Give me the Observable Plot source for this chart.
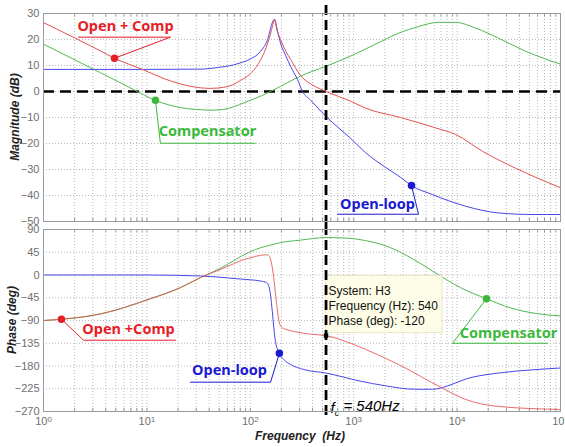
<!DOCTYPE html>
<html><head><meta charset="utf-8">
<script src="https://cdn.jsdelivr.net/npm/d3@7"></script>
<script src="https://cdn.jsdelivr.net/npm/@observablehq/plot@0.6"></script>
<style>
body{margin:0;background:#fff;}
#chart{position:relative;width:565px;height:447px;}
#chart svg{position:absolute;left:0;overflow:visible;}
</style></head><body><div id="chart"></div>
<script>
// ---------- data ----------
const magTicks = [30, 20, 10, 0, -10, -20, -30, -40, -50];
const phaseTicks = [90, 45, 0, -45, -90, -135, -180, -225, -270];
const decadeTicks = [1, 10, 100, 1000, 10000, 100000];
const decadeLabels = ["0", "1", "2", "3", "4", "5"];

// Magnitude (dB)
const magOpenF = [1, 10, 33, 50, 68.7, 80, 100, 126, 147, 163, 171, 184, 196, 220, 245, 286, 320, 382, 540, 931, 1300, 2000, 2838, 3622, 5740, 12050, 25120, 53000, 100000];
const magOpenV = [8.5, 8.5, 8.6, 9.3, 10.2, 11, 12.5, 15.5, 20, 26.4, 27.8, 23, 18.6, 13.8, 9.7, 4.6, 0, -3.3, -9.6, -18, -23.5, -29, -33, -36.2, -39.6, -44.1, -46.7, -47.3, -47.3];
const magTotalF = [1, 3.56, 4.86, 9.3, 15, 26.4, 41.2, 55, 68.7, 80, 100, 115, 126, 138, 147, 157, 163, 168, 171, 180, 196, 220, 245, 305, 400, 540, 931, 1300, 2838, 6180, 9661, 17620, 36730, 100000];
const magTotalV = [26.5, 15.6, 12.8, 8.3, 4.8, 2, 1.2, 1.6, 2.7, 4.2, 6.8, 9.6, 12.2, 15.5, 18.5, 22.2, 24.8, 26.8, 27.8, 24, 20, 15.6, 12.4, 6.2, 2.5, 0, -3.7, -6.4, -10, -14, -16.5, -23, -29.5, -37];
const magCompF = [1, 3.56, 4.86, 7.4, 12.1, 21.1, 33, 41, 55, 68.7, 90, 126, 196, 305, 540, 931, 1626, 2710, 4236, 6607, 9661, 15070, 25120, 45920, 100000];
const magCompV = [18.2, 7.2, 4.5, 0.8, -3.4, -6.2, -7, -7.2, -6.9, -5.9, -4.1, -1.8, 2, 5.9, 9.7, 13.6, 18.2, 22.4, 25, 26.6, 26.6, 24.4, 20.5, 15.5, 10.5];

// Phase (deg)
const phOpenF = [1, 10, 33, 80, 126, 144, 150, 157, 163, 169, 175, 182, 191, 210, 245, 330, 540, 1164, 2000, 3963, 5781, 9000, 12050, 25120, 50000, 100000];
const phOpenV = [0, 0, -2, -8, -12, -15, -20, -40, -71, -105, -131, -146, -156, -167, -177, -187, -194, -210, -219, -226, -226, -216, -206, -194, -188, -184];
const phTotalF = [1, 1.49, 3.56, 10.8, 21.1, 33, 50, 68.7, 80, 100, 126, 144, 153, 162, 170, 177, 183, 190, 200, 219, 245, 382, 540, 931, 1300, 2710, 7228, 12050, 25120, 100000];
const phTotalV = [-90, -87.5, -77, -47, -25, -5, 10, 22, 28, 34, 39, 40, 37, 18, -12, -45, -71, -92, -103, -107, -110, -117, -120, -135, -147, -177, -224, -246, -260, -266];
const phCompF = [1, 3.56, 10.8, 21.1, 33, 50, 68.7, 80, 100, 126, 150, 196, 305, 540, 931, 1300, 1816, 2710, 4000, 5781, 8000, 10790, 19230, 32810, 57300, 100000];
const phCompV = [-90, -77, -47, -25, -5, 12, 28, 36, 46, 54, 58, 64, 69, 74, 72.5, 68, 61, 47, 28, 8, -10, -25, -47, -65, -76, -81];

// crossover / data tip
const fc = 540;
const fcPhase = -120;
const tipLines = ["System: H3", "Frequency (Hz): " + fc, "Phase (deg): " + fcPhase];

// annotations (data space): label, text pos, leader polyline, marker
const magNotes = [
  {label: "Open + Comp", color: "#e61e28", tx: 6.21, ty: 25.1, path: [[2.18, 20.9], [16.9, 20.9], [4.86, 12.8]], mx: 4.86, my: 12.8},
  {label: "Compensator", color: "#3cb93c", tx: 38.5, ty: -15.3, path: [[112, -19.9], [13.5, -19.9], [12.1, -3.4]], mx: 12.1, my: -3.4},
  {label: "Open-loop", color: "#1a1ad2", tx: 1700, ty: -43.3, path: [[697, -47.2], [4236, -47.2], [3622, -36.2]], mx: 3622, my: -36.2}
];
const phNotes = [
  {label: "Open +Comp", color: "#e61e28", tx: 6.64, ty: -107, path: [[18.9, -129], [2.44, -129], [1.49, -87.5]], mx: 1.49, my: -87.5},
  {label: "Open-loop", color: "#1a1ad2", tx: 63, ty: -188.5, path: [[26.4, -212], [157, -212], [191, -155]], mx: 191, my: -155},
  {label: "Compensator", color: "#3cb93c", tx: 31400, ty: -115, path: [[74800, -135], [9030, -135], [19230, -47]], mx: 19230, my: -47}
];

// ---------- helpers ----------
const pts = (fs, vs) => fs.map((f, i) => ({f, v: vs[i]}));
const minorF = [];
for (let d = 1; d < 1e5; d *= 10) for (let m = 1; m < 10; m++) minorF.push(m * d);
minorF.push(1e5);

const lineRed = "#e65050", lineBlue = "#4646ec", lineGreen = "#50b850";
const gridStyle = {stroke: "#b8b8b8", strokeDasharray: "1,2", strokeWidth: 1};
const font = "'Liberation Sans', Arial, sans-serif";

function noteMarks(notes) {
  const m = [];
  for (const n of notes) {
    m.push(Plot.line(n.path.map(p => ({f: p[0], v: p[1]})), {x: "f", y: "v", stroke: n.color, strokeWidth: 1}));
    m.push(Plot.dot([n], {x: "mx", y: "my", r: 3, fill: n.color, stroke: n.color}));
    m.push(Plot.text([n], {x: "tx", y: "ty", text: "label", fill: n.color, fontSize: 14.5, fontWeight: "bold", fontFamily: "'Noto Sans', 'Liberation Sans', sans-serif"}));
  }
  return m;
}

const chart = document.getElementById("chart");

// ---------- magnitude panel ----------
const topPlot = Plot.plot({
  width: 565, height: 225,
  marginLeft: 43, marginRight: 5, marginTop: 13, marginBottom: 4,
  style: {fontFamily: font, fontSize: "11px", overflow: "visible", background: "transparent"},
  x: {type: "log", domain: [1, 1e5], axis: null},
  y: {domain: [-50, 30]},
  marks: [
    Plot.ruleX(minorF, gridStyle),
    Plot.ruleY(magTicks, gridStyle),
    Plot.ruleX(minorF, {y1: -50, y2: -48.8, stroke: "#999"}),
    Plot.ruleX(minorF, {y1: 30, y2: 28.8, stroke: "#999"}),
    Plot.ruleY([0], {stroke: "#000", strokeWidth: 2.6, strokeDasharray: "11,6"}),
    Plot.line(pts(magCompF, magCompV), {x: "f", y: "v", stroke: lineGreen, strokeWidth: 1, curve: "monotone-x"}),
    Plot.line(pts(magOpenF, magOpenV), {x: "f", y: "v", stroke: lineBlue, strokeWidth: 1, curve: "monotone-x"}),
    Plot.line(pts(magTotalF, magTotalV), {x: "f", y: "v", stroke: lineRed, strokeWidth: 1, curve: "monotone-x"}),
    Plot.ruleX([fc], {y1: 33.1, y2: -51.6, stroke: "#000", strokeWidth: 2.8, strokeDasharray: "10,5"}),
    Plot.frame({stroke: "#9a9a9a"}),
    Plot.axisY(magTicks, {tickSize: 0, tickPadding: 4, label: null, fill: "#707070"}),
    ...noteMarks(magNotes)
  ]
});
topPlot.style.top = "0px";
chart.appendChild(topPlot);
d3.select(topPlot).append("text")
  .attr("transform", "translate(19,117) rotate(-90)")
  .attr("text-anchor", "middle").attr("font-family", font)
  .attr("font-size", 12).attr("font-weight", "bold").attr("font-style", "italic")
  .attr("fill", "#222").text("Magnitude (dB)");

// ---------- phase panel ----------
const botPlot = Plot.plot({
  width: 565, height: 222,
  marginLeft: 43, marginRight: 5, marginTop: 4, marginBottom: 36,
  style: {fontFamily: font, fontSize: "11px", overflow: "visible", background: "transparent"},
  x: {type: "log", domain: [1, 1e5]},
  y: {domain: [-270, 90]},
  marks: [
    Plot.ruleX(minorF, gridStyle),
    Plot.ruleY(phaseTicks, gridStyle),
    Plot.ruleX(minorF, {y1: -270, y2: -264, stroke: "#999"}),
    Plot.ruleX(minorF, {y1: 90, y2: 84, stroke: "#999"}),
    Plot.line(pts(phCompF, phCompV), {x: "f", y: "v", stroke: lineGreen, strokeWidth: 1, curve: "monotone-x"}),
    Plot.line(pts(phOpenF, phOpenV), {x: "f", y: "v", stroke: lineBlue, strokeWidth: 1, curve: "monotone-x"}),
    Plot.line(pts(phTotalF, phTotalV), {x: "f", y: "v", stroke: lineRed, strokeWidth: 1, strokeOpacity: 0.85, curve: "monotone-x"}),
    Plot.rect([{x1: fc, x2: 7230, y1: -115, y2: -2}], {x1: "x1", x2: "x2", y1: "y1", y2: "y2", fill: "#fdfde6", fillOpacity: 0.92, stroke: "#e6e6cc"}),
    Plot.text(tipLines, {x: 571, y: [-32, -61.5, -91], text: d => d, textAnchor: "start", fontSize: 12, fill: "#111"}),
    Plot.ruleX([fc], {y1: 97.9, y2: -283, stroke: "#000", strokeWidth: 2.8, strokeDasharray: "10,5"}),
    Plot.dot([{f: fc, v: fcPhase}], {x: "f", y: "v", symbol: "square", r: 2.5, fill: "#000"}),
    Plot.text(["fc = " + fc + "Hz"], {x: 597, y: -264, text: d => d, textAnchor: "start", fontSize: 15, fontStyle: "italic", fill: "#000"}),
    Plot.frame({stroke: "#9a9a9a"}),
    Plot.axisY(phaseTicks, {tickSize: 0, tickPadding: 4, label: null, fill: "#707070"}),
    Plot.axisX(decadeTicks, {tickSize: 0, tickPadding: 6, label: null, fill: "#707070", tickFormat: d => "10^" + decadeLabels[decadeTicks.indexOf(d)]}),
    ...noteMarks(phNotes)
  ]
});
botPlot.style.top = "225px";
chart.appendChild(botPlot);

// superscripts on decade labels, subscript on f_c
d3.select(botPlot).selectAll("text").each(function () {
  const t = this.textContent;
  if (/^10\^\d$/.test(t)) {
    const e = t.slice(3);
    d3.select(this).text("10").append("tspan").attr("dy", "-0.45em").attr("font-size", "8px").text(e);
  } else if (t === "fc = " + fc + "Hz") {
    const s = d3.select(this).text("f");
    s.append("tspan").attr("dy", "0.3em").attr("font-size", "9px").text("c");
    s.append("tspan").attr("dy", "-0.3em").text(" = " + fc + "Hz");
  }
});
d3.select(botPlot).append("text")
  .attr("transform", "translate(16,95) rotate(-90)")
  .attr("text-anchor", "middle").attr("font-family", font)
  .attr("font-size", 12).attr("font-weight", "bold").attr("font-style", "italic")
  .attr("fill", "#222").text("Phase (deg)");
d3.select(botPlot).append("text")
  .attr("x", 300).attr("y", 215)
  .attr("text-anchor", "middle").attr("font-family", font)
  .attr("font-size", 12).attr("font-weight", "bold").attr("font-style", "italic")
  .attr("fill", "#222").style("white-space", "pre").text("Frequency  (Hz)");
</script></body></html>
